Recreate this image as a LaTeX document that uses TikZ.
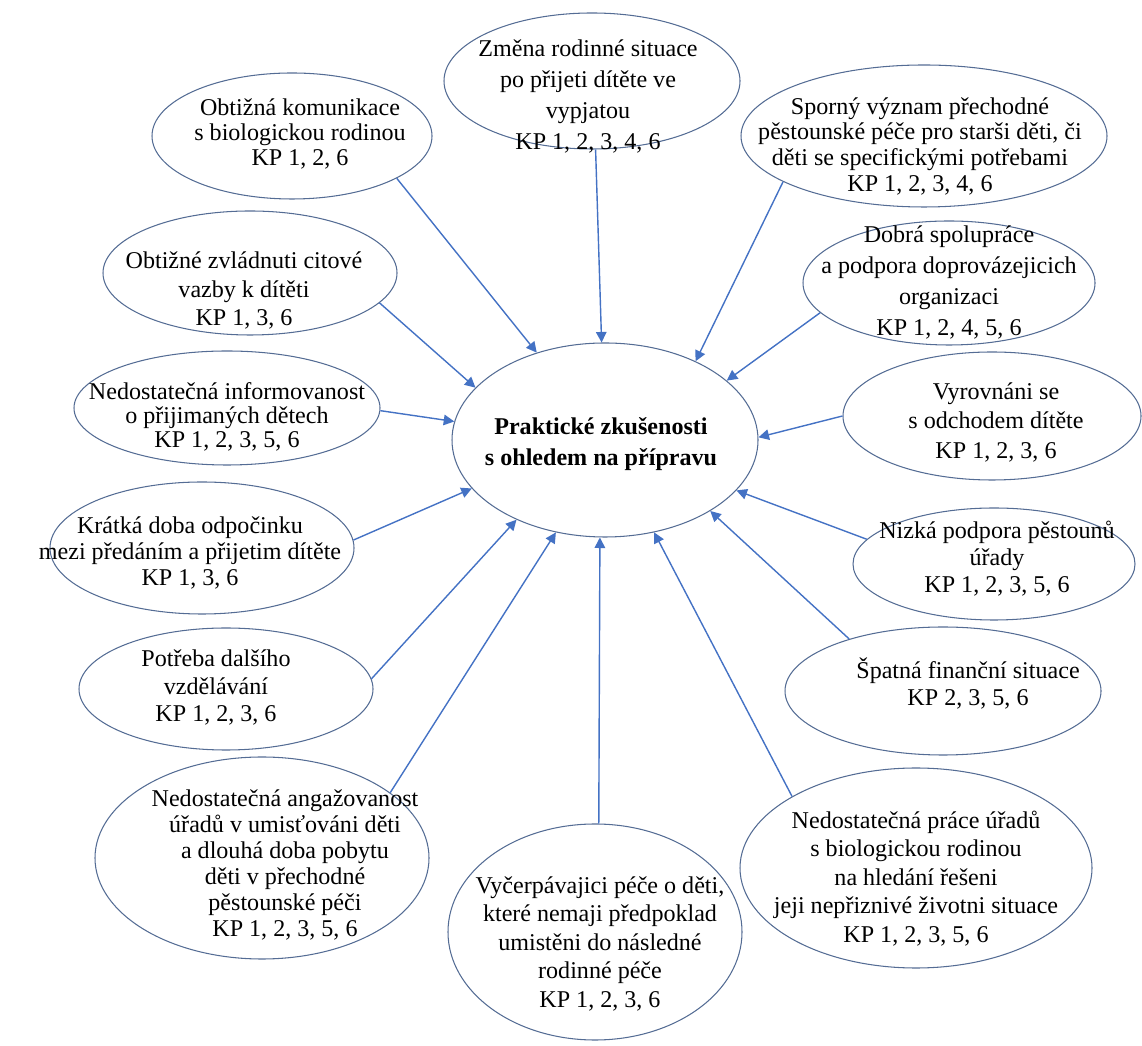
\documentclass[tikz,border=0pt]{standalone}
\usepackage{fontspec}
\setmainfont{Liberation Serif}
\usetikzlibrary{shapes.geometric,arrows.meta}
\definecolor{rim}{RGB}{84, 108, 148}
\definecolor{flowblue}{RGB}{68, 114, 196}
\newcommand{\bubtext}[4][1]{\makebox[0pt]{\hspace*{#2}\hspace*{#2}\smash{\raisebox{\dimexpr#3-0.12cm\relax}{\renewcommand{\arraystretch}{#1}\begin{tabular}{@{}c@{}}#4\end{tabular}}}}}

\begin{document}
\begin{tikzpicture}
  [
    bubble/.style={ellipse, draw=rim, line width=0.6pt, inner sep=0pt, font=\fontsize{13.7}{15.4}\selectfont},
    core/.style={bubble, font=\fontsize{13.7}{17.6}\selectfont\bfseries},
    link/.style={-{Triangle[length=6pt, width=6pt]}, flowblue, line width=0.8pt}
  ]
  \useasboundingbox (0,0) rectangle (22.84,20.9);

  \node[core, minimum width=6.12cm, minimum height=3.88cm] (priprava) at (12.10,12.10) {\bubtext{-0.08cm}{-0.08cm}{Praktické zkušenosti\\s ohledem na přípravu}};

  \node[bubble, minimum width=5.60cm, minimum height=2.52cm] (komunikace) at (5.84,18.18) {\bubtext[0.93]{0.16cm}{0cm}{Obtižná komunikace\\s biologickou rodinou\\KP 1, 2, 6}};
  \node[bubble, minimum width=5.92cm, minimum height=2.72cm] (zmena) at (11.84,19.28) {\bubtext[1.15]{-0.08cm}{-0.32cm}{Změna rodinné situace\\po přijeti dítěte ve\\vypjatou\\KP 1, 2, 3, 4, 6}};
  \node[bubble, minimum width=7.32cm, minimum height=2.84cm] (sporny) at (18.48,18.18) {\bubtext[0.95]{-0.08cm}{-0.24cm}{Sporný význam přechodné\\pěstounské péče pro starši děti, či\\děti se specifickými potřebami\\KP 1, 2, 3, 4, 6}};
  \node[bubble, minimum width=5.88cm, minimum height=2.48cm] (vazba) at (5.00,15.44) {\bubtext[1.05]{-0.12cm}{-0.38cm}{Obtižné zvládnuti citové\\vazby k dítěti\\KP 1, 3, 6}};
  \node[bubble, minimum width=5.84cm, minimum height=2.48cm] (spoluprace) at (18.98,15.24) {\bubtext[1.15]{0cm}{0cm}{Dobrá spolupráce\\a podpora doprovázejicich\\organizaci\\KP 1, 2, 4, 5, 6}};
  \node[bubble, minimum width=6.12cm, minimum height=2.28cm] (informace) at (4.54,12.74) {\bubtext[0.9]{0cm}{-0.22cm}{Nedostatečná informovanost\\o přijimaných dětech\\KP 1, 2, 3, 5, 6}};
  \node[bubble, minimum width=5.96cm, minimum height=2.56cm] (odchod) at (19.84,12.58) {\bubtext[1.09]{0.08cm}{-0.14cm}{Vyrovnáni se\\s odchodem dítěte\\KP 1, 2, 3, 6}};
  \node[bubble, minimum width=6.08cm, minimum height=2.64cm] (odpocinek) at (4.04,9.94) {\bubtext[0.96]{-0.24cm}{-0.14cm}{Krátká doba odpočinku\\mezi předáním a přijetim dítěte\\KP 1, 3, 6}};
  \node[bubble, minimum width=5.64cm, minimum height=2.24cm] (podpora) at (19.88,9.62) {\bubtext{0.06cm}{0.08cm}{Nizká podpora pěstounů\\úřady\\KP 1, 2, 3, 5, 6}};
  \node[bubble, minimum width=5.88cm, minimum height=2.44cm] (vzdelani) at (4.52,7.12) {\bubtext[1.02]{-0.2cm}{0cm}{Potřeba dalšího\\vzdělávání\\KP 1, 2, 3, 6}};
  \node[bubble, minimum width=6.32cm, minimum height=2.56cm] (finance) at (18.86,7.08) {\bubtext{0.5cm}{0.1cm}{Špatná finanční situace\\KP 2, 3, 5, 6}};
  \node[bubble, minimum width=6.68cm, minimum height=4.04cm] (angazovanost) at (5.24,3.74) {\bubtext[0.96]{0.46cm}{-0.18cm}{Nedostatečná angažovanost\\úřadů v umisťováni děti\\a dlouhá doba pobytu\\děti v přechodné\\pěstounské péči\\KP 1, 2, 3, 5, 6}};
  \node[bubble, minimum width=5.88cm, minimum height=4.32cm] (pece) at (11.90,2.26) {\bubtext[1.05]{0.1cm}{-0.26cm}{Vyčerpávajici péče o děti,\\které nemaji předpoklad\\umistěni do následné\\rodinné péče\\KP 1, 2, 3, 6}};
  \node[bubble, minimum width=7.04cm, minimum height=4.00cm] (urady) at (18.32,3.54) {\bubtext[1.05]{0cm}{-0.24cm}{Nedostatečná práce úřadů\\s biologickou rodinou\\na hledání řešeni\\jeji nepřiznivé životni situace\\KP 1, 2, 3, 5, 6}};

  % arrows into the centre
  \draw[link] (komunikace.-22) -- (priprava.128);
  \draw[link] (zmena.-87) -- (priprava.92);
  \draw[link] (sporny.-162) -- (priprava.41);
  \draw[link] (vazba.-13) -- (priprava.158);
  \draw[link] (spoluprace.193) -- (priprava.26);
  \draw[link] (informace.-1) -- (priprava.173);
  \draw[link] (odchod.180) -- (priprava.1);
  \draw[link] (odpocinek.3) -- (priprava.200);
  \draw[link] (podpora.169) -- (priprava.-21);
  \draw[link] (vzdelani.4) -- (priprava.222);
  \draw[link] (finance.151) -- (priprava.-34);
  \draw[link] (angazovanost.27) -- (priprava.242);
  \draw[link] (pece.88) -- (priprava.-93);
  \draw[link] (urady.150) -- (priprava.-62);
\end{tikzpicture}
\end{document}
